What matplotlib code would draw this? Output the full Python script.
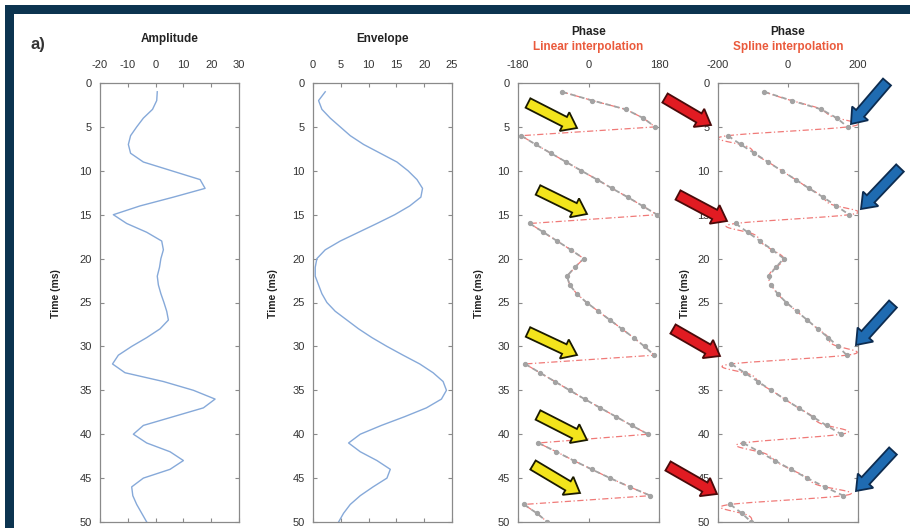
import numpy as np
import matplotlib
matplotlib.use("Agg")
import matplotlib.pyplot as plt
from matplotlib.patches import FancyArrow, Rectangle
from matplotlib.transforms import Affine2D

plt.rcParams['font.family'] = ['Liberation Sans', 'DejaVu Sans']
plt.rcParams['axes.unicode_minus'] = False

# ---------------- data ----------------
time_ms = list(range(1, 51))

amplitude = [0.6, 0.4, -1.1, -4.4, -6.8, -9.0, -9.8, -9.0, -4.4, 5.8,
             16.0, 17.8, 6.4, -5.6, -15.2, -10.4, -3.2, 2.2, 2.8, 1.9,
             1.4, 0.6, 1.0, 1.9, 3.0, 4.0, 4.6, 1.6, -3.2, -8.6,
             -13.4, -15.5, -11.0, 2.8, 13.6, 21.4, 17.2, 6.4, -4.4, -8.0,
             -3.2, 5.2, 10.0, 5.2, -4.4, -8.6, -8.2, -6.8, -5.0, -3.2]

envelope = [2.2, 1.0, 1.6, 3.1, 4.9, 6.7, 9.1, 12.1, 15.1, 17.1,
            18.7, 19.7, 19.4, 17.4, 14.7, 11.5, 8.2, 4.9, 2.2, 0.7,
            0.4, 0.4, 1.0, 1.6, 2.5, 4.0, 6.1, 8.2, 10.6, 13.3,
            16.2, 19.2, 21.6, 23.4, 24.0, 23.1, 20.4, 16.5, 12.3, 8.5,
            6.4, 8.5, 11.5, 13.9, 13.3, 10.8, 8.5, 6.7, 5.5, 4.6]

phase = [-68, 10, 95, 140, 170, -172, -135, -96, -57, -18,
         22, 60, 100, 138, 175, -150, -115, -80, -45, -12,
         -35, -55, -48, -30, -5, 25, 55, 85, 115, 143,
         168, -162, -124, -86, -48, -10, 30, 70, 110, 152,
         -128, -82, -38, 8, 55, 105, 158, -165, -132, -105]

amp_ticks = [-20, -10, 0, 10, 20, 30]
env_ticks = [0, 5, 10, 15, 20, 25]
lin_ticks = [-180, 0, 180]
spl_ticks = [-200, 0, 200]
time_ticks = list(range(0, 51, 5))

# ---------------- styling ----------------
W, H = 910, 528
fig = plt.figure(figsize=(W / 100, H / 100), dpi=100)
fig.patch.set_facecolor('white')
px = Affine2D().scale(1 / W, -1 / H).translate(0, 1) + fig.transFigure

navy = '#0c3450'
fig.add_artist(Rectangle((5, 5), W - 5, 9, transform=px, fc=navy, ec='none'))
fig.add_artist(Rectangle((5, 5), 9, H - 5, transform=px, fc=navy, ec='none'))

TOP, BOT = 83, 522
panels = [(100, 239), (313, 452), (518, 659), (718, 858)]
axes = []
for (l, r) in panels:
    ax = fig.add_axes([l / W, 1 - BOT / H, (r - l) / W, (BOT - TOP) / H])
    axes.append(ax)

spine_c = '#8a8a8a'
tick_c = '#333333'
line_blue = '#86a9d9'
for ax in axes:
    for s in ax.spines.values():
        s.set_color(spine_c)
        s.set_linewidth(0.9)
    ax.set_ylim(50, 0)
    ax.set_yticks(time_ticks)
    ax.tick_params(direction='in', length=3, width=0.8, color=spine_c,
                   top=True, bottom=True, left=True, right=True,
                   labeltop=True, labelbottom=False,
                   labelsize=8, labelcolor=tick_c)
    ax.tick_params(axis='x', pad=9)
    ax.tick_params(axis='y', pad=6)
    ax.set_ylabel('Time (ms)', fontsize=7.5, fontweight='bold', color='#222222')

# Amplitude
ax = axes[0]
ax.plot(amplitude, time_ms, color=line_blue, lw=1.0)
ax.set_xlim(-20, 30)
ax.set_xticks(amp_ticks)
ax.yaxis.set_label_coords(-0.28, 0.52)
ax.text(0.5, 1.10, 'Amplitude', transform=ax.transAxes, ha='center', va='center',
        fontsize=8.5, fontweight='bold', color='#222222')

# Envelope
ax = axes[1]
ax.plot(envelope, time_ms, color=line_blue, lw=1.0)
ax.set_xlim(0, 25)
ax.set_xticks(env_ticks)
ax.yaxis.set_label_coords(-0.25, 0.52)
ax.text(0.5, 1.10, 'Envelope', transform=ax.transAxes, ha='center', va='center',
        fontsize=8.5, fontweight='bold', color='#222222')

# Phase: gray samples line broken at wraps
t_arr = np.array(time_ms, dtype=float)
p_arr = np.array(phase, dtype=float)
breaks = np.where(np.abs(np.diff(p_arr)) > 180)[0] + 1
t_gray = np.insert(t_arr, breaks, np.nan)
p_gray = np.insert(p_arr, breaks, np.nan)


def natural_spline(x, y, xs):
    n = len(x)
    h = np.diff(x)
    A = np.zeros((n, n))
    b = np.zeros(n)
    A[0, 0] = 1
    A[-1, -1] = 1
    for i in range(1, n - 1):
        A[i, i - 1] = h[i - 1]
        A[i, i] = 2 * (h[i - 1] + h[i])
        A[i, i + 1] = h[i]
        b[i] = 6 * ((y[i + 1] - y[i]) / h[i] - (y[i] - y[i - 1]) / h[i - 1])
    M = np.linalg.solve(A, b)
    idx = np.clip(np.searchsorted(x, xs) - 1, 0, n - 2)
    x0, x1 = x[idx], x[idx + 1]
    hh = x1 - x0
    a = (x1 - xs) / hh
    bb = (xs - x0) / hh
    return (a * y[idx] + bb * y[idx + 1]
            + ((a ** 3 - a) * M[idx] + (bb ** 3 - bb) * M[idx + 1]) * hh ** 2 / 6)


gray_c = '#a3a3a3'
red_c = '#f07a78'
red_title = '#ea5a3c'

# Linear interpolation panel
ax = axes[2]
ax.plot(p_arr, t_arr, color=red_c, lw=0.9, ls=(0, (5, 2, 1, 2)), zorder=2)
ax.plot(p_gray, t_gray, color=gray_c, lw=1.3, ls=(0, (3, 2)), marker='o',
        ms=2.8, mfc=gray_c, mec=gray_c, zorder=3)
ax.set_xlim(-180, 180)
ax.set_xticks(lin_ticks)
ax.yaxis.set_label_coords(-0.24, 0.52)
ax.text(0.5, 1.117, 'Phase', transform=ax.transAxes, ha='center', va='center',
        fontsize=8.5, fontweight='bold', color='#222222')
ax.text(0.5, 1.082, 'Linear interpolation', transform=ax.transAxes, ha='center',
        va='center', fontsize=8.5, fontweight='bold', color=red_title)

# Spline interpolation panel
ax = axes[3]
t_fine = np.linspace(t_arr[0], t_arr[-1], 2000)
ax.plot(natural_spline(t_arr, p_arr, t_fine), t_fine, color=red_c, lw=0.9,
        ls=(0, (5, 2, 1, 2)), zorder=2)
ax.plot(p_gray, t_gray, color=gray_c, lw=1.3, ls=(0, (3, 2)), marker='o',
        ms=2.8, mfc=gray_c, mec=gray_c, zorder=3)
ax.set_xlim(-200, 200)
ax.set_xticks(spl_ticks)
ax.yaxis.set_label_coords(-0.20, 0.52)
ax.text(0.5, 1.117, 'Phase', transform=ax.transAxes, ha='center', va='center',
        fontsize=8.5, fontweight='bold', color='#222222')
ax.text(0.5, 1.082, 'Spline interpolation', transform=ax.transAxes, ha='center',
        va='center', fontsize=8.5, fontweight='bold', color=red_title)

# panel label
fig.text(38 / W, 1 - 44 / H, 'a)', ha='center', va='center', fontsize=12,
         fontweight='bold', color='#333333')

# ---------------- annotation arrows (pixel layout) ----------------
yellow_arrows = [((528, 103), (577, 128)), ((538, 190), (587, 214)),
                 ((528, 332), (577, 355)), ((538, 415), (587, 440)),
                 ((533, 465), (580, 493))]
red_arrows = [((665, 98), (711, 125)), ((678, 195), (727, 221)),
              ((673, 329), (720, 356)), ((668, 466), (717, 494))]
blue_arrows = [((887, 82), (851, 124)), ((900, 168), (861, 209)),
               ((893, 304), (856, 345)), ((893, 451), (856, 491))]


def add_arrow(tail, tip, fc, ec):
    dx, dy = tip[0] - tail[0], tip[1] - tail[1]
    fig.add_artist(FancyArrow(tail[0], tail[1], dx, dy, width=10.5, head_width=21,
                              head_length=14, length_includes_head=True,
                              transform=px, fc=fc, ec=ec, lw=1.3, zorder=10))


for a in yellow_arrows:
    add_arrow(*a, fc='#f3e41c', ec='#1a1a00')
for a in red_arrows:
    add_arrow(*a, fc='#e11b22', ec='#4a0a0a')
for a in blue_arrows:
    add_arrow(*a, fc='#1f6bb1', ec='#0d2c50')

fig.savefig('out.png', dpi=100, facecolor='white')
